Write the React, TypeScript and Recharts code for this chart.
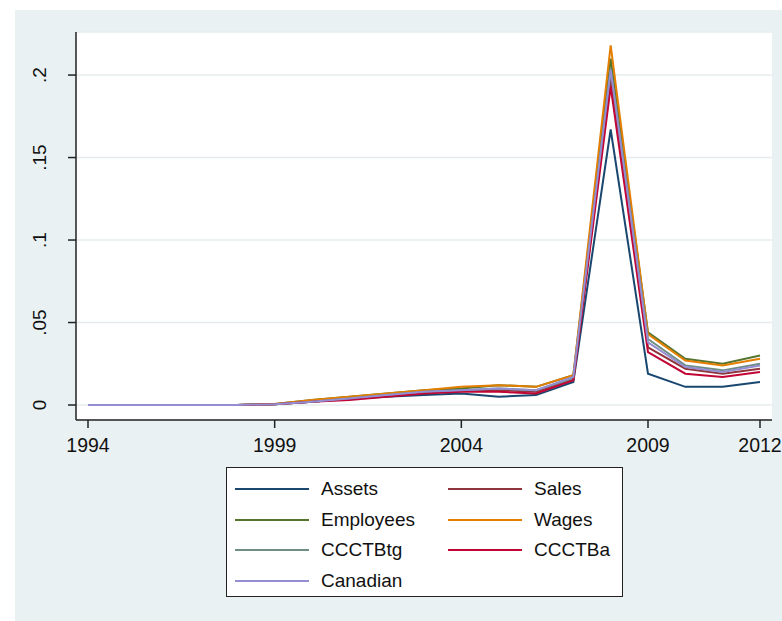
import React from "react";
import { LineChart, Line, XAxis, YAxis, CartesianGrid } from "recharts";

// Years on the x axis
const years = [
  1994, 1995, 1996, 1997, 1998, 1999, 2000, 2001, 2002, 2003, 2004, 2005,
  2006, 2007, 2008, 2009, 2010, 2011, 2012,
];

const xTicks = [1994, 1999, 2004, 2009, 2012];
const yTicks = [0, 0.05, 0.1, 0.15, 0.2];

// Series values by year
const assets = [0, 0, 0, 0, 0, 0.0005, 0.002, 0.004, 0.005, 0.006, 0.007, 0.005, 0.006, 0.014, 0.167, 0.019, 0.011, 0.011, 0.014];
const sales = [0, 0, 0, 0, 0, 0.0005, 0.002, 0.004, 0.006, 0.008, 0.009, 0.009, 0.008, 0.016, 0.198, 0.035, 0.022, 0.019, 0.022];
const employees = [0, 0, 0, 0, 0, 0.0006, 0.003, 0.005, 0.007, 0.009, 0.01, 0.012, 0.011, 0.018, 0.21, 0.044, 0.028, 0.025, 0.03];
const wages = [0, 0, 0, 0, 0, 0.0006, 0.003, 0.005, 0.007, 0.009, 0.011, 0.012, 0.011, 0.018, 0.218, 0.043, 0.027, 0.024, 0.028];
const ccctbtg = [0, 0, 0, 0, 0, 0.0005, 0.002, 0.004, 0.006, 0.008, 0.009, 0.01, 0.009, 0.016, 0.204, 0.04, 0.024, 0.021, 0.025];
const ccctba = [0, 0, 0, 0, 0, 0.0004, 0.002, 0.003, 0.005, 0.007, 0.008, 0.008, 0.007, 0.015, 0.193, 0.032, 0.019, 0.017, 0.02];
const canadian = [0, 0, 0, 0, 0, 0.0005, 0.002, 0.004, 0.006, 0.008, 0.009, 0.01, 0.009, 0.017, 0.203, 0.038, 0.023, 0.02, 0.024];

const series = [
  { key: "assets", name: "Assets", color: "#1a476f", values: assets },
  { key: "sales", name: "Sales", color: "#90353b", values: sales },
  { key: "employees", name: "Employees", color: "#55752f", values: employees },
  { key: "wages", name: "Wages", color: "#e37e00", values: wages },
  { key: "ccctbtg", name: "CCCTBtg", color: "#6e8e84", values: ccctbtg },
  { key: "ccctba", name: "CCCTBa", color: "#c10534", values: ccctba },
  { key: "canadian", name: "Canadian", color: "#938dd2", values: canadian },
];

const data = years.map((year, i) => {
  const row: Record<string, number> = { year };
  series.forEach((s) => {
    row[s.key] = s.values[i];
  });
  return row;
});

const FONT = "'Liberation Sans', Arial, sans-serif";

const fmtY = (v: number) => (v === 0 ? "0" : String(v).replace(/^0/, ""));

// Stata-style rotated y tick labels
const YTick = (props: any) => {
  const { x, y, payload } = props;
  return (
    <text
      x={x}
      y={y}
      transform={`rotate(-90, ${x}, ${y})`}
      textAnchor="middle"
      fontSize={19}
      fontFamily={FONT}
      fill="#111"
    >
      {fmtY(payload.value)}
    </text>
  );
};

// Two-column legend box under the plot
const LegendBox = () => {
  const cols = [
    series.filter((_, i) => i % 2 === 0),
    series.filter((_, i) => i % 2 === 1),
  ];
  return (
    <div
      style={{
        position: "absolute",
        left: 226,
        top: 467,
        width: 397,
        height: 130,
        border: "1.5px solid #222",
        background: "#fff",
        boxSizing: "border-box",
        display: "flex",
        padding: "6px 0 0 8px",
        fontFamily: FONT,
        fontSize: 19,
        color: "#111",
      }}
    >
      {cols.map((col, ci) => (
        <div key={ci} style={{ width: ci === 0 ? 213 : 170 }}>
          {col.map((s) => (
            <div
              key={s.key}
              style={{ display: "flex", alignItems: "center", height: 30.5 }}
            >
              <div
                style={{
                  width: 74,
                  height: 2,
                  background: s.color,
                  marginRight: 12,
                  flexShrink: 0,
                }}
              />
              <span style={{ whiteSpace: "nowrap" }}>{s.name}</span>
            </div>
          ))}
        </div>
      ))}
    </div>
  );
};

export default function App() {
  return (
    <div
      style={{
        position: "absolute",
        left: 0,
        top: 0,
        width: 782,
        height: 621,
        background: "#fff",
      }}
    >
      <div
        style={{
          position: "absolute",
          left: 15,
          top: 10,
          right: 0,
          bottom: 0,
          background: "#eaf1f3",
        }}
      />
      <div style={{ position: "absolute", left: 0, top: 0 }}>
        <LineChart
          width={782}
          height={621}
          data={data}
          margin={{ top: 32, right: 10, bottom: 161, left: 16 }}
        >
          <CartesianGrid
            vertical={false}
            stroke="#e6eced"
            strokeWidth={1.5}
            fill="#ffffff"
          />
          <XAxis
            dataKey="year"
            type="number"
            domain={[1994, 2012]}
            ticks={xTicks}
            padding={{ left: 12, right: 12 }}
            height={40}
            tickSize={8}
            tickMargin={10}
            stroke="#222"
            strokeWidth={1.5}
            tick={{ fontSize: 19.5, fontFamily: FONT, fill: "#111" }}
          />
          <YAxis
            type="number"
            domain={[-0.00909, 0.2261]}
            ticks={yTicks}
            allowDataOverflow
            width={60}
            tickSize={8}
            tickMargin={22}
            stroke="#222"
            strokeWidth={1.5}
            tick={<YTick />}
          />
          {series.map((s) => (
            <Line
              key={s.key}
              type="linear"
              dataKey={s.key}
              name={s.name}
              stroke={s.color}
              strokeWidth={2}
              dot={false}
              isAnimationActive={false}
            />
          ))}
        </LineChart>
      </div>
      <LegendBox />
    </div>
  );
}
